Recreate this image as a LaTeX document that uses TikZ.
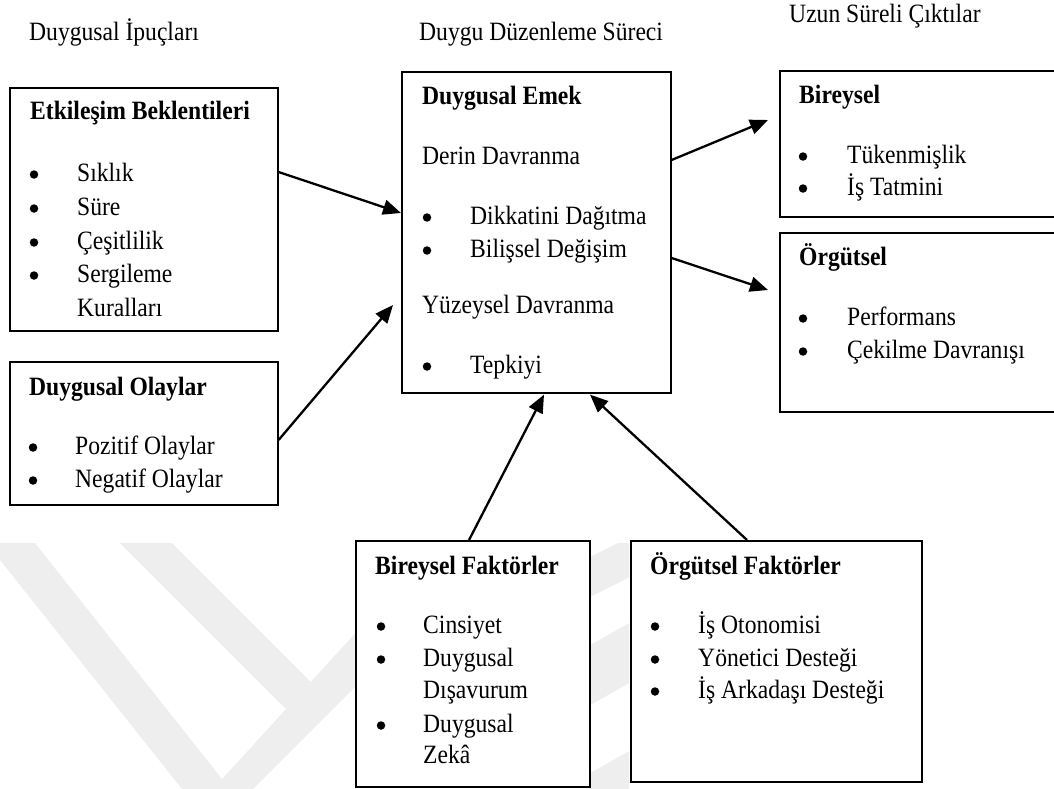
\documentclass[tikz,border=0pt]{standalone}
\usepackage{fontspec}
\setmainfont{Liberation Serif}
\usetikzlibrary{arrows.meta,calc}
\definecolor{wmc}{HTML}{EEEEEE}
\newcommand{\vs}[1]{\scalebox{1}[1.12]{#1}}
\newcommand{\myitem}[5]{%
  \node[bul] (#1b) at (#2,#4-6.5) {};
  \node[txt] (#1) at (#3,#4) {\vs{#5}};}
\begin{document}
\begin{tikzpicture}[x=1pt,y=-1pt,
  box/.style={draw, fill=white, line width=1.6pt, anchor=north west, inner sep=0pt},
  txt/.style={anchor=base west, inner sep=0pt, font=\fontsize{23.6}{28}\selectfont},
  hd/.style={anchor=base west, inner sep=0pt, font=\fontsize{23.6}{28}\selectfont\bfseries},
  bul/.style={circle, fill=black, inner sep=0pt, minimum size=8.5pt},
  arr/.style={line width=2.3pt, -{Triangle[length=18pt,width=15pt]}},
  wm/.style={fill=wmc}
]
\useasboundingbox (0,0) rectangle (1054,789);
\clip (0,0) rectangle (1054,789);
% faint watermark
\fill[wm] (0,543) -- (35,543) -- (230,789) -- (182,789) -- (0,560) -- cycle;
\fill[wm] (120,543) -- (172,543) -- (311,682) -- (286,709) -- cycle;
\fill[wm] (213,789) -- (253,789) -- (360,682) -- (360,628) -- cycle;
\begin{scope}
\clip (589,543) rectangle (629,789);
\fill[wm] (560,612) -- (560,572) -- (640,532) -- (640,572) -- cycle;
\fill[wm] (560,722) -- (560,662) -- (640,617) -- (640,677) -- cycle;
\fill[wm] (560,800) -- (560,790) -- (640,745) -- (640,800) -- cycle;
\end{scope}
% boxes
\node[box, minimum width=268pt, minimum height=243pt] (etk) at (9,87) {};
\node[box, minimum width=268pt, minimum height=143pt] (olay) at (9,361) {};
\node[box, minimum width=269pt, minimum height=321pt] (emek) at (401,71) {};
\node[box, minimum width=300pt, minimum height=146pt] (bir) at (779,70) {};
\node[box, minimum width=300pt, minimum height=179pt] (org) at (779,232) {};
\node[box, minimum width=234pt, minimum height=246pt] (bf) at (355,540) {};
\node[box, minimum width=291pt, minimum height=241pt] (of) at (630,540) {};
% column headings
\node[txt] (h1) at (29,41) {\vs{Duygusal İpuçları}};
\node[txt] (h2) at (419,41) {\vs{Duygu Düzenleme Süreci}};
\node[txt] (h3) at (789,23) {\vs{Uzun Süreli Çıktılar}};
% Etkilesim
\node[hd] (etkT) at (30,120) {\vs{Etkileşim Beklentileri}};
\myitem{e1}{34}{77}{181}{Sıklık}
\myitem{e2}{34}{77}{215}{Süre}
\myitem{e3}{34}{77}{249}{Çeşitlilik}
\myitem{e4}{34}{77}{282}{Sergileme}
\node[txt] (e5) at (77,316) {\vs{Kuralları}};
% Olaylar
\node[hd] (olayT) at (29,395) {\vs{Duygusal Olaylar}};
\myitem{o1}{33}{75}{454}{Pozitif Olaylar}
\myitem{o2}{33}{75}{487}{Negatif Olaylar}
% Emek
\node[hd] (emekT) at (422,105) {\vs{Duygusal Emek}};
\node[txt] (d0) at (422,164) {\vs{Derin Davranma}};
\myitem{d1}{427}{470}{224}{Dikkatini Dağıtma}
\myitem{d2}{427}{470}{257}{Bilişsel Değişim}
\node[txt] (y0) at (422,313) {\vs{Yüzeysel Davranma}};
\myitem{y1}{427}{470}{373}{Tepkiyi}
% Bireysel
\node[hd] (birT) at (799,103) {\vs{Bireysel}};
\myitem{b1}{803}{847}{163}{Tükenmişlik}
\myitem{b2}{803}{847}{195}{İş Tatmini}
% Orgutsel
\node[hd] (orgT) at (799,265) {\vs{Örgütsel}};
\myitem{g1}{803}{847}{325}{Performans}
\myitem{g2}{803}{847}{358}{Çekilme Davranışı}
% Bireysel Faktorler
\node[hd] (bfT) at (375,574) {\vs{Bireysel Faktörler}};
\myitem{f1}{381}{423}{633}{Cinsiyet}
\myitem{f2}{381}{423}{666}{Duygusal}
\node[txt] (f3) at (423,698) {\vs{Dışavurum}};
\myitem{f4}{381}{423}{732}{Duygusal}
\node[txt] (f5) at (423,763) {\vs{Zekâ}};
% Orgutsel Faktorler
\node[hd] (ofT) at (650,574) {\vs{Örgütsel Faktörler}};
\myitem{k1}{655}{698}{633}{İş Otonomisi}
\myitem{k2}{655}{698}{666}{Yönetici Desteği}
\myitem{k3}{655}{698}{698}{İş Arkadaşı Desteği}
% arrows
\draw[arr] ($(etk.north east)+(0,85)$) -- ($(emek.north west)+(0,142)$);
\draw[arr] ($(olay.north east)+(0,79)$) -- ($(emek.north west)+(-8,234)$);
\draw[arr] ($(emek.north east)+(0,89)$) -- ($(bir.north west)+(-11,50)$);
\draw[arr] ($(emek.north east)+(0,187)$) -- ($(org.north west)+(-11,58)$);
\draw[arr] ($(bf.north west)+(114,0)$) -- ($(emek.south west)+(143,1)$);
\draw[arr] ($(of.north west)+(117,0)$) -- ($(emek.south west)+(189,1)$);
\end{tikzpicture}
\end{document}
